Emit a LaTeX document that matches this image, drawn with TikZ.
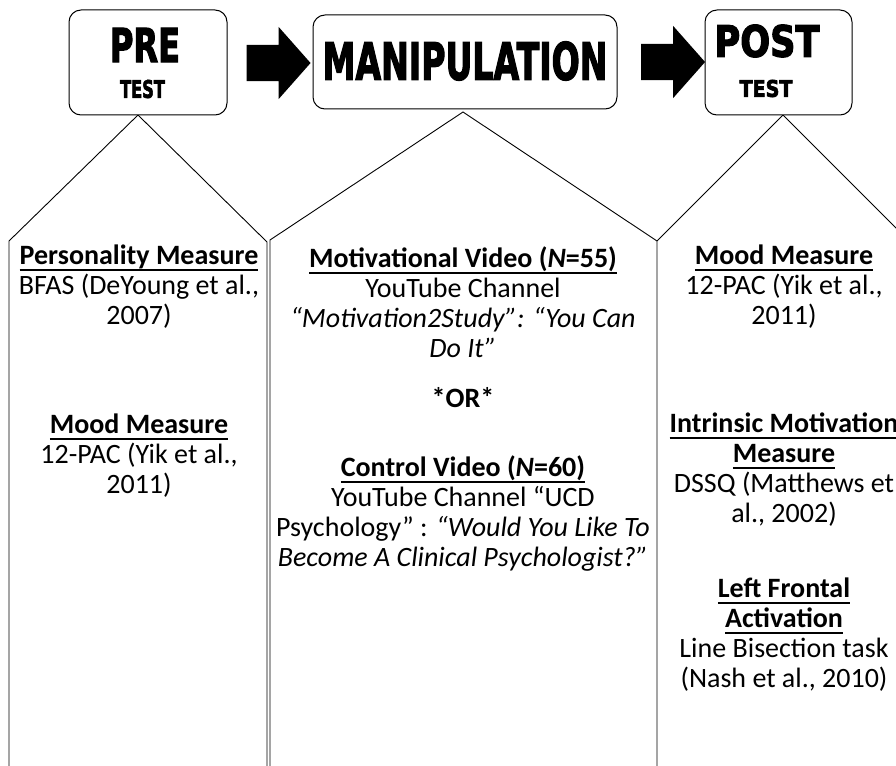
\documentclass[tikz,border=0pt]{standalone}
\usepackage{fontspec}
\setmainfont{Carlito}
\newfontfamily\headfont[BoldFont={DejaVu Sans Bold}, BoldFeatures={FakeBold=3}]{DejaVu Sans}
\usetikzlibrary{shapes.arrows}
\tikzstyle{stagebox} = [rectangle, rounded corners=12pt, draw=black, line width=1pt, fill=white, inner sep=0pt]
\tikzstyle{stageword} = [inner sep=0pt]
\tikzstyle{stagearrow} = [single arrow, fill=black, draw=none, inner xsep=0pt, inner ysep=18pt, single arrow head extend=18pt, single arrow tip angle=97, minimum height=64pt]
\tikzstyle{infotext} = [align=center, inner sep=0pt, font=\fontsize{28}{30}\selectfont]
\tikzstyle{panel} = [draw=black, line width=0.9pt]
\newcommand{\bigword}[3]{\resizebox{#1pt}{#2pt}{\headfont\bfseries #3}}
\newsavebox{\hdbox}
\newcommand{\hd}[1]{\textbf{\sbox{\hdbox}{#1}\rlap{\rule[-6.5pt]{\wd\hdbox}{2pt}}\usebox{\hdbox}}}

\begin{document}
\begin{tikzpicture}[x=1pt, y=-1pt]
			\useasboundingbox (0,0) rectangle (896,765);
			\clip (0,0) rectangle (896,765);
			% the three panels below the stages
			\coordinate (pretip) at (138,115);
			\coordinate (maniptip) at (463,112);
			\coordinate (posttip) at (783,115);
			\draw[panel] (9,770) -- (9,241) -- (pretip) -- (267,242) -- (267,770);
			\draw[panel] (270,770) -- (270,240) -- (maniptip) -- (657,241) -- (657,770);
			\draw[panel] (657,241) -- (posttip) -- (908,240) -- (908,770);
			% stage boxes
			\node[stagebox, minimum width=158pt, minimum height=105pt] (pre) at (148,62.5) {};
			\node[stageword] (preword) at (145,45) {\bigword{70}{34}{PRE}};
			\node[stageword] (pretest) at (142.5,89) {\bigword{45}{18}{TEST}};
			\node[stagebox, minimum width=304pt, minimum height=94pt] (manip) at (465,62) {};
			\node[stageword] (manipword) at (465,61) {\bigword{285}{38}{MANIPULATION}};
			\node[stagebox, minimum width=147pt, minimum height=105pt] (post) at (778.5,62.5) {};
			\node[stageword] (postword) at (767,41) {\bigword{105}{32}{POST}};
			\node[stageword] (posttest) at (766,88.5) {\bigword{53}{17}{TEST}};
			% arrows between stages
			\node[stagearrow] (arrowa) at (270.5,63) {};
			\node[stagearrow] (arrowb) at (665,62) {};
			% pre test
			\node[infotext] (persmeasure) at (139,287) {\hd{Personality Measure}\\ BFAS (DeYoung et al.,\\ 2007)};
			\node[infotext] (moodpre) at (139,456) {\hd{Mood Measure}\\ 12-PAC (Yik et al.,\\ 2011)};
			% manipulation
			\node[infotext] (motvideo) at (463,302) {\hd{Motivational Video (\textit{N}=55)}\\ YouTube Channel\\ \textit{“Motivation2Study”: “You Can}\\ \textit{Do It”}};
			\node[infotext] (ortext) at (463,398) {\textbf{*OR*}};
			\node[infotext] (ctrlvideo) at (463,514) {\hd{Control Video (\textit{N}=60)}\\ YouTube Channel “UCD\\ Psychology” : \textit{“Would You Like To}\\ \textit{Become A Clinical Psychologist?”}};
			% post test
			\node[infotext] (moodpost) at (784,287) {\hd{Mood Measure}\\ 12-PAC (Yik et al.,\\ 2011)};
			\node[infotext] (intrinsic) at (784,470) {\hd{Intrinsic Motivation}\\ \hd{Measure}\\ DSSQ (Matthews et\\ al., 2002)};
			\node[infotext] (leftfrontal) at (784,635) {\hd{Left Frontal}\\ \hd{Activation}\\ Line Bisection task\\ (Nash et al., 2010)};
\end{tikzpicture}
\end{document}
